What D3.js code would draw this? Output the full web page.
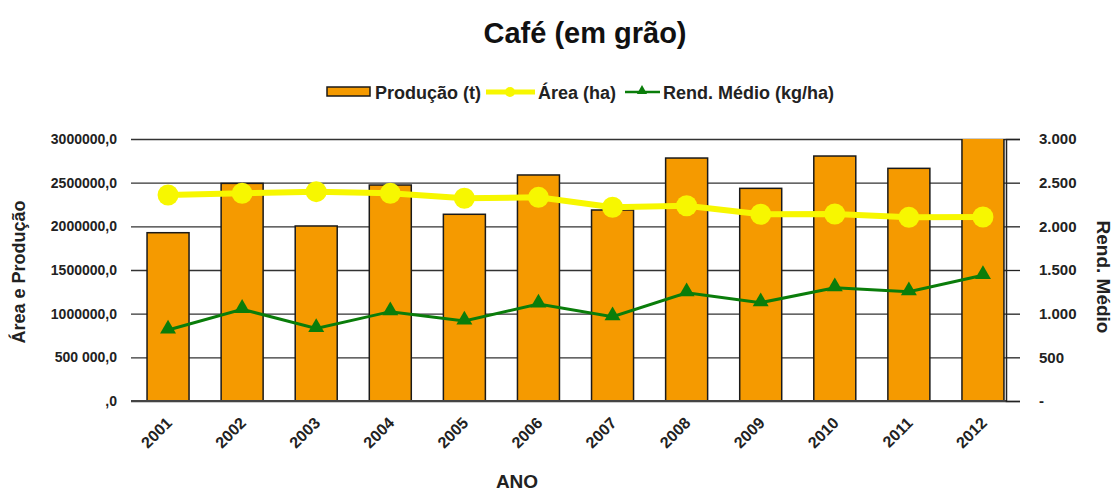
<!DOCTYPE html>
<html>
<head>
<meta charset="utf-8">
<script src="https://cdn.jsdelivr.net/npm/d3@7"></script>
<style>
  body { margin: 0; background: #fff; }
  svg { font-family: "Liberation Sans", Arial, sans-serif; font-weight: bold; }
</style>
</head>
<body>
<svg class="main"></svg>
<script>
const anos = ["2001","2002","2003","2004","2005","2006","2007","2008","2009","2010","2011","2012"];
const producao = [1927000, 2492000, 2004000, 2473000, 2138000, 2588000, 2187000, 2782000, 2435000, 2805000, 2664000, 3050000];
const area = [2359000, 2378000, 2397000, 2378000, 2321000, 2332000, 2218000, 2236000, 2138000, 2141000, 2103000, 2107000];
const rend = [813, 1050, 832, 1023, 916, 1111, 966, 1240, 1126, 1297, 1252, 1439];

const leftTicks = [0, 500000, 1000000, 1500000, 2000000, 2500000, 3000000];
const leftLabels = [",0", "500 000,0", "1000000,0", "1500000,0", "2000000,0", "2500000,0", "3000000,0"];
const rightTicks = [0, 500, 1000, 1500, 2000, 2500, 3000];
const rightLabels = ["-", "500", "1.000", "1.500", "2.000", "2.500", "3.000"];

document.addEventListener("DOMContentLoaded", function() {
    const width = 1116;
    const height = 493;
    const svg = d3.select("svg.main")
        .attr("width", width)
        .attr("height", height);

    // plot area (right edge of grid is not the end of the last band, like in the original)
    const left = 131, right = 1006, top = 139, bottom = 401;

    const x = d3.scaleBand().domain(anos).range([131, 1020]);
    const barW = 42;
    const yL = d3.scaleLinear().domain([0, 3000000]).range([bottom, top]);
    const yR = d3.scaleLinear().domain([0, 3000]).range([bottom, top]);
    const cx = d => x(d) + x.bandwidth() / 2;

    svg.append("defs").append("clipPath").attr("id", "plot")
      .append("rect").attr("x", left).attr("y", top).attr("width", right - left + 2).attr("height", bottom - top + 2);

    // grid
    svg.append("g")
      .attr("transform", `translate(${left},0)`)
      .call(d3.axisLeft(yL).tickValues(leftTicks).tickSize(-(right - left)).tickPadding(14)
        .tickFormat((d, i) => leftLabels[i]))
      .call(g => g.select(".domain").remove())
      .call(g => g.selectAll(".tick line").attr("stroke", "#333").attr("stroke-width", 1.3))
      .call(g => g.selectAll("text").attr("fill", "#222").style("font-size", "14px").style("font-weight", "bold"));

    // bars
    svg.append("g").attr("clip-path", "url(#plot)")
      .selectAll("rect").data(producao).join("rect")
      .attr("x", (d, i) => cx(anos[i]) - barW / 2)
      .attr("y", d => yL(d))
      .attr("width", barW)
      .attr("height", d => yL(0) - yL(d))
      .style("fill", "#F59A00")
      .style("stroke", "#1a1a1a")
      .style("stroke-width", "1.5");

    // baseline
    svg.append("line")
      .attr("x1", left).attr("x2", right).attr("y1", bottom).attr("y2", bottom)
      .style("stroke", "#444").style("stroke-width", "2");

    // right axis
    svg.append("g")
      .attr("transform", `translate(${right},0)`)
      .call(d3.axisRight(yR).tickValues(rightTicks).tickSize(14).tickPadding(19)
        .tickFormat((d, i) => rightLabels[i]))
      .call(g => g.select(".domain").attr("stroke", "#222").attr("stroke-width", 1.5))
      .call(g => g.selectAll(".tick line").attr("stroke", "#222").attr("stroke-width", 1.3))
      .call(g => g.selectAll("text").attr("fill", "#222").style("font-size", "15px").style("font-weight", "bold"));

    // area line
    const lineArea = d3.line().x((d, i) => cx(anos[i])).y(d => yL(d));
    svg.append("path").datum(area)
      .attr("d", lineArea)
      .style("fill", "none").style("stroke", "#F7F700").style("stroke-width", "6");
    svg.append("g").selectAll("circle").data(area).join("circle")
      .attr("cx", (d, i) => cx(anos[i]))
      .attr("cy", d => yL(d))
      .attr("r", 10.5)
      .style("fill", "#F7F700");

    // rend line
    const lineRend = d3.line().x((d, i) => cx(anos[i])).y(d => yR(d));
    svg.append("path").datum(rend)
      .attr("d", lineRend)
      .style("fill", "none").style("stroke", "#0A7D0A").style("stroke-width", "3");
    const tri = d3.symbol().type(d3.symbolTriangle).size(110);
    svg.append("g").selectAll("path").data(rend).join("path")
      .attr("d", tri)
      .attr("transform", (d, i) => `translate(${cx(anos[i])},${yR(d) - 1})`)
      .style("fill", "#0A7D0A");

    // x labels
    svg.append("g").selectAll("text").data(anos).join("text")
      .attr("transform", d => `translate(${cx(d) + 5},${424}) rotate(-45)`)
      .attr("text-anchor", "end")
      .style("font-size", "16px")
      .attr("fill", "#222")
      .text(d => d);

    // titles
    svg.append("text")
      .attr("x", 585).attr("y", 43)
      .attr("text-anchor", "middle")
      .style("font-size", "29px")
      .attr("fill", "#111")
      .text("Café (em grão)");

    svg.append("text")
      .attr("x", 517).attr("y", 488)
      .attr("text-anchor", "middle")
      .style("font-size", "19px")
      .attr("fill", "#222")
      .text("ANO");

    svg.append("text")
      .attr("transform", "translate(25,272) rotate(-90)")
      .attr("text-anchor", "middle")
      .style("font-size", "18px")
      .attr("fill", "#222")
      .text("Área e Produção");

    svg.append("text")
      .attr("transform", "translate(1097,277) rotate(90)")
      .attr("text-anchor", "middle")
      .style("font-size", "19px")
      .attr("fill", "#222")
      .text("Rend. Médio");

    // legend
    const lg = svg.append("g").style("font-size", "18px");
    lg.append("rect").attr("x", 327).attr("y", 87).attr("width", 43).attr("height", 9)
      .style("fill", "#F59A00").style("stroke", "#1a1a1a").style("stroke-width", "1.5");
    lg.append("text").attr("x", 375).attr("y", 99).attr("fill", "#222").text("Produção (t)");
    lg.append("line").attr("x1", 486).attr("x2", 535).attr("y1", 92).attr("y2", 92)
      .style("stroke", "#F7F700").style("stroke-width", "5");
    lg.append("circle").attr("cx", 510).attr("cy", 92).attr("r", 5).style("fill", "#F7F700");
    lg.append("text").attr("x", 538).attr("y", 99).attr("fill", "#222").text("Área (ha)");
    lg.append("line").attr("x1", 625).attr("x2", 660).attr("y1", 92).attr("y2", 92)
      .style("stroke", "#0A7D0A").style("stroke-width", "2.5");
    lg.append("path").attr("d", d3.symbol().type(d3.symbolTriangle).size(45))
      .attr("transform", "translate(642,91)").style("fill", "#0A7D0A");
    lg.append("text").attr("x", 663).attr("y", 99).attr("fill", "#222").text("Rend. Médio (kg/ha)");
});
</script>
</body>
</html>
